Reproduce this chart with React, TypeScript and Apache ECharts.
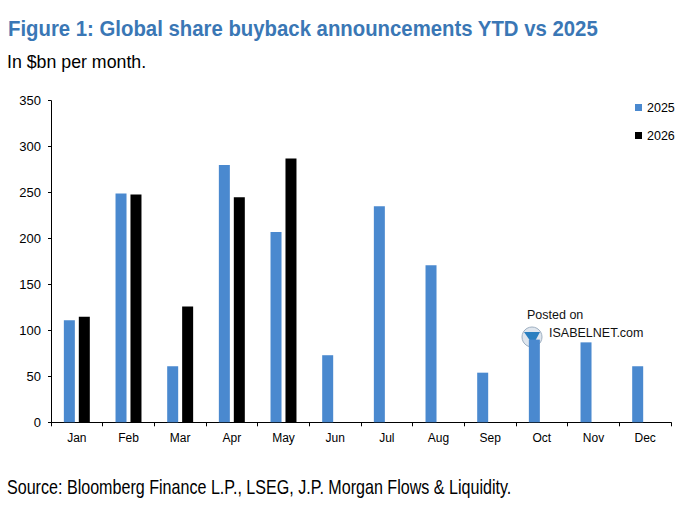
import React, { useEffect, useRef } from "react";
import * as echarts from "echarts";

const months = ["Jan", "Feb", "Mar", "Apr", "May", "Jun", "Jul", "Aug", "Sep", "Oct", "Nov", "Dec"];
const values2025 = [111, 249, 61, 280, 207, 73, 235, 171, 54, 90, 87, 61];
const values2026: (number | null)[] = [115, 248, 126, 245, 287, null, null, null, null, null, null, null];
const yTicks = { min: 0, max: 350, interval: 50 };

const titleText = "Figure 1: Global share buyback announcements YTD vs 2025";
const subtitleText = "In $bn per month.";
const sourceText = "Source: Bloomberg Finance L.P., LSEG, J.P. Morgan Flows & Liquidity.";

const BLUE = "#4A89CF";
const FONT = "Arial, 'Liberation Sans', Helvetica, sans-serif";

export default function App() {
  const ref = useRef<HTMLDivElement>(null);
  useEffect(() => {
    if (!ref.current) return;
    const chart = echarts.init(ref.current, undefined, { renderer: "svg" });
    chart.setOption({
      animation: false,
      backgroundColor: "#ffffff",
      textStyle: { fontFamily: FONT },
      grid: { left: 51, right: 9, top: 100.7, bottom: 92.7, containLabel: false, outerBoundsMode: "none" },
      legend: {
        orient: "vertical",
        left: 630,
        top: 96,
        itemWidth: 7,
        itemHeight: 7,
        itemGap: 15,
        icon: "rect",
        textStyle: { fontSize: 12.5, color: "#000", fontFamily: FONT },
        data: ["2025", "2026"],
      },
      xAxis: {
        type: "category",
        data: months,
        boundaryGap: true,
        axisLine: { show: true, lineStyle: { color: "#000", width: 1 } },
        axisTick: { show: true, length: 4, lineStyle: { color: "#000" }, alignWithLabel: false },
        axisLabel: { color: "#000", fontSize: 12, margin: 10, fontFamily: FONT },
        splitLine: { show: false },
      },
      yAxis: {
        type: "value",
        min: yTicks.min,
        max: yTicks.max,
        interval: yTicks.interval,
        axisLine: { show: true, lineStyle: { color: "#000", width: 1 } },
        axisTick: { show: true, length: 3, lineStyle: { color: "#000" } },
        axisLabel: { color: "#000", fontSize: 13, margin: 10, fontFamily: FONT },
        splitLine: { show: false },
      },
      series: [
        {
          name: "2025",
          type: "bar",
          data: values2025,
          barWidth: 11,
          barGap: "36%",
          itemStyle: { color: BLUE },
        },
        {
          name: "2026",
          type: "bar",
          data: values2026,
          barWidth: 11,
          barGap: "36%",
          itemStyle: { color: "#000" },
        },
      ],
      graphic: [
        {
          type: "text",
          x: 8,
          y: 28,
          scaleX: 0.885,
          z: 100,
          style: {
            text: titleText,
            fontSize: 23,
            fontWeight: "bold",
            fontFamily: FONT,
            fill: "#3A77B5",
            textAlign: "left",
            textVerticalAlign: "middle",
          },
        },
        {
          type: "text",
          x: 7,
          y: 62,
          scaleX: 0.96,
          z: 100,
          style: {
            text: subtitleText,
            fontSize: 18.5,
            fontFamily: FONT,
            fill: "#000",
            textAlign: "left",
            textVerticalAlign: "middle",
          },
        },
        {
          type: "text",
          x: 7,
          y: 487,
          scaleX: 0.805,
          z: 100,
          style: {
            text: sourceText,
            fontSize: 20,
            fontFamily: FONT,
            fill: "#000",
            textAlign: "left",
            textVerticalAlign: "middle",
          },
        },
        {
          type: "group",
          z: 100,
          children: [
            {
              type: "text",
              x: 527,
              y: 315,
              style: {
                text: "Posted on",
                fontSize: 12.5,
                fontFamily: FONT,
                fill: "#111",
                textVerticalAlign: "middle",
              },
            },
            {
              type: "circle",
              shape: { cx: 532, cy: 337, r: 10 },
              style: { fill: "#dfe6ee", stroke: "#9fb0c2", lineWidth: 1 },
            },
            {
              type: "polygon",
              shape: { points: [[524, 332], [540, 332], [533, 345]] },
              style: { fill: "#2a7fc0" },
            },
            {
              type: "text",
              x: 549,
              y: 333,
              style: {
                text: "ISABELNET.com",
                fontSize: 12.5,
                fontFamily: FONT,
                fill: "#111",
                textVerticalAlign: "middle",
              },
            },
          ],
        },
      ],
    });
    return () => chart.dispose();
  }, []);
  return (
    <div
      ref={ref}
      style={{ position: "fixed", left: 0, top: 0, width: 680, height: 515, background: "#fff" }}
    />
  );
}
